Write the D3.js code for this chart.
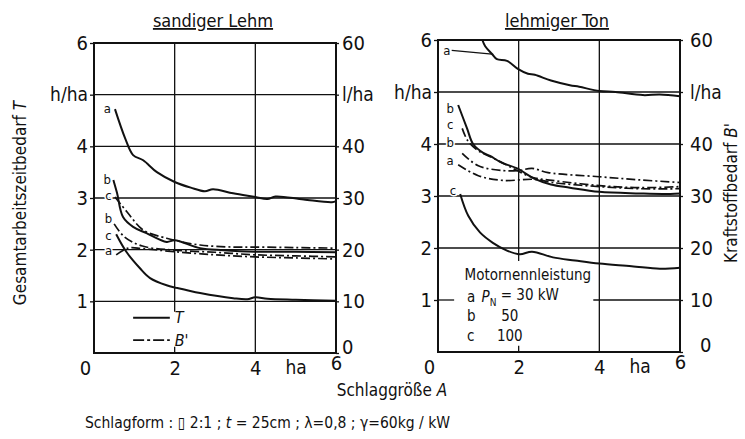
<!DOCTYPE html>
<html>
<head>
<meta charset="utf-8">
<script src="https://cdn.jsdelivr.net/npm/d3@7"></script>
<style>
  body { margin: 0; background: #fff; }
  svg text { font-family: "DejaVu Sans Condensed", "DejaVu Sans", sans-serif; font-stretch: condensed; fill: #111; }
</style>
</head>
<body>
<svg id="chart" width="745" height="439"></svg>
<script>

// Schlaggröße A (ha) -> T (h/ha) bzw. B' (l/ha)
var sandT_a = [[0.52,4.72],[0.77,4.16],[0.97,3.83],[1.22,3.73],[1.56,3.5],[2.0,3.31],[2.4,3.2],[2.75,3.13],[2.95,3.17],[3.45,3.09],[4.0,3.02],[4.3,2.98],[4.5,3.03],[5.2,2.97],[5.9,2.92],[6.0,2.94]]
var sandT_b = [[0.48,3.35],[0.57,3.1],[0.72,2.63],[0.97,2.44],[1.3,2.32],[1.8,2.15],[2.0,2.18],[2.63,2.03],[3.2,1.99],[4.0,1.96],[5.0,1.96],[6.0,1.95]]
var sandT_c = [[0.55,2.3],[0.81,1.95],[1.14,1.64],[1.39,1.45],[1.8,1.31],[2.05,1.26],[2.63,1.16],[3.45,1.06],[3.8,1.04],[4.0,1.08],[4.3,1.05],[5.0,1.03],[6.0,1.01]]
var sandB_a = [[0.55,19.0],[0.85,20.3],[1.2,20.2],[2.0,19.6],[3.0,19.0],[4.0,18.6],[5.0,18.4],[6.0,18.2]]
var sandB_b = [[0.5,25.0],[0.75,22.5],[1.2,20.7],[2.0,19.9],[3.0,19.5],[4.0,19.0],[5.0,18.8],[6.0,18.6]]
var sandB_c = [[0.52,30.2],[0.82,27.3],[1.22,23.8],[1.8,22.2],[2.0,21.8],[2.63,20.9],[3.45,20.5],[4.0,20.5],[5.0,20.4],[6.0,20.3]]

var tonT_a = [[1.1,6.0],[1.17,5.88],[1.34,5.73],[1.46,5.63],[1.71,5.6],[1.99,5.44],[2.23,5.35],[2.4,5.33],[2.8,5.22],[3.27,5.13],[3.5,5.1],[4.0,5.02],[4.4,5.0],[5.08,4.94],[5.5,4.95],[6.0,4.92]]
var tonT_b = [[0.5,4.75],[0.72,4.3],[0.87,4.0],[1.12,3.83],[1.29,3.77],[1.58,3.64],[1.96,3.53],[2.4,3.33],[2.8,3.22],[3.27,3.16],[4.0,3.08],[5.0,3.05],[5.58,3.04],[6.0,3.05]]
var tonT_c = [[0.55,3.04],[0.75,2.62],[1.04,2.3],[1.36,2.1],[1.71,1.95],[2.03,1.88],[2.33,1.93],[2.85,1.82],[3.4,1.76],[4.0,1.7],[4.8,1.65],[5.5,1.6],[6.0,1.62]]
var tonB_a = [[0.5,36.0],[1.0,33.9],[1.6,33.0],[2.4,33.2],[2.83,32.6],[4.0,31.8],[5.0,31.4],[6.0,31.4]]
var tonB_b = [[0.6,38.2],[1.0,35.8],[1.6,34.9],[2.0,34.9],[2.33,35.3],[2.73,34.5],[4.0,33.7],[5.0,33.1],[6.0,32.6]]
var tonB_c = [[0.6,43.0],[0.74,40.6],[1.0,38.7],[1.34,37.4],[1.74,35.8],[2.33,33.6],[2.83,33.0],[4.0,32.0],[5.0,31.6],[6.0,31.8]]

// Kurvenbeschriftung: [Buchstabe, A, T]
var sandLabels = [["a",0.33,4.74],["b",0.33,3.35],["c",0.36,3.04],["b",0.36,2.6],["c",0.36,2.28],["a",0.36,1.98]]
var tonLabels = [["a",0.22,5.8],["b",0.3,4.69],["c",0.3,4.38],["b",0.3,4.03],["a",0.3,3.68],["c",0.37,3.1]]

var xTicks = [0,2,4,5,6]
var xTickLabels = ["0","2","4","ha","6"]
var tTicks = [1,2,3,4,5,6]
var tTickLabels = ["1","2","3","4","h/ha","6"]
var bTicks = [0,10,20,30,40,50,60]
var bTickLabels = ["0","10","20","30","40","l/ha","60"]

var legendPower = [["a","30 kW"],["b","50"],["c","100"]]

var svg = d3.select("#chart")

var line = function(x, y) {
  return d3.line()
    .x(d => x(d[0]))
    .y(d => y(d[1]))
    .curve(d3.curveCatmullRom.alpha(0.5))
}

function drawPanel(p) {

  var x = d3.scaleLinear().domain([0, 6]).range([p.left, p.right])
  var yT = d3.scaleLinear().domain([0, 6]).range([p.bottom, p.top])
  var yB = d3.scaleLinear().domain([0, 60]).range([p.bottom, p.top])

  var g = svg.append("g")

  // gridlines
  g.selectAll(".hgrid").data(p.hGrid).enter().append("line")
    .attr("x1", d => x(d[1])).attr("x2", d => x(d[2]))
    .attr("y1", d => yT(d[0])).attr("y2", d => yT(d[0]))
    .attr("stroke", "#111").attr("stroke-width", 1.3)
  g.selectAll(".vgrid").data(p.vGrid).enter().append("line")
    .attr("x1", d => x(d[0])).attr("x2", d => x(d[0]))
    .attr("y1", d => yT(d[1])).attr("y2", d => yT(d[2]))
    .attr("stroke", "#111").attr("stroke-width", 1.3)

  // frame
  g.append("rect")
    .attr("x", p.left).attr("y", p.top)
    .attr("width", p.right - p.left).attr("height", p.bottom - p.top)
    .attr("fill", "none").attr("stroke", "#111").attr("stroke-width", 2)

  // axes
  var axL = g.append("g")
    .attr("transform", "translate(" + p.left + ",0)")
    .call(d3.axisLeft(yT).tickValues(tTicks).tickFormat((d, i) => tTickLabels[i]).tickSize(4).tickSizeOuter(0).tickPadding(2))
  var axR = g.append("g")
    .attr("transform", "translate(" + p.right + ",0)")
    .call(d3.axisRight(yB).tickValues(bTicks).tickFormat((d, i) => bTickLabels[i]).tickSize(3).tickSizeOuter(0).tickPadding(p.rightPad))
  var axB = g.append("g")
    .attr("transform", "translate(0," + p.bottom + ")")
    .call(d3.axisBottom(x).tickValues(xTicks).tickFormat((d, i) => xTickLabels[i]).tickSize(0).tickPadding(8))

  g.selectAll(".domain").remove()
  g.selectAll(".tick line").attr("stroke", "#111").attr("stroke-width", 1.3)
  g.selectAll(".tick text").attr("font-size", 20).attr("fill", "#111")
    .attr("font-family", "'DejaVu Sans Condensed','DejaVu Sans',sans-serif")
    .style("font-stretch", "condensed")
  axL.selectAll(".tick text").filter(d => d == 5).attr("font-size", 19)
  axR.selectAll(".tick text").filter(d => d == 50).attr("font-size", 19)
  axR.selectAll(".tick text").filter(d => d == 0).attr("dx", p.zeroDx).attr("dy", p.zeroDy)
  axB.selectAll(".tick text").filter(d => d == 0).attr("dx", -9)
  axB.selectAll(".tick text").filter(d => d == 6).attr("dy", "0.45em")
  axB.selectAll(".tick text").filter(d => d == 5).attr("font-size", 19)

  // title
  g.append("text")
    .attr("x", (p.left + p.right) / 2 + p.titleDx).attr("y", 27)
    .attr("text-anchor", "middle").attr("font-size", 18)
    .attr("text-decoration", "underline")
    .text(p.title)

  // curves
  var solid = line(x, yT)
  var dashed = line(x, yB)
  g.selectAll(".tcurve").data(p.T).enter().append("path")
    .attr("d", d => solid(d))
    .attr("fill", "none").attr("stroke", "#111").attr("stroke-width", 2)
  g.selectAll(".bcurve").data(p.B).enter().append("path")
    .attr("d", d => dashed(d))
    .attr("fill", "none").attr("stroke", "#111").attr("stroke-width", 1.7)
    .attr("stroke-dasharray", "9,3,2,3")

  // curve letters
  g.selectAll(".clabel").data(p.labels).enter().append("text")
    .attr("x", d => x(d[1])).attr("y", d => yT(d[2]))
    .attr("dy", "0.35em")
    .attr("text-anchor", "middle").attr("font-size", 13)
    .attr("stroke", "#fff").attr("stroke-width", 3).attr("paint-order", "stroke")
    .text(d => d[0])

  return { x: x, yT: yT, yB: yB, g: g }
}

var left = drawPanel({
  left: 94, right: 336, top: 43, bottom: 353, rightPad: 3, zeroDx: 0, zeroDy: 0, titleDx: -2,
  title: "sandiger Lehm",
  hGrid: [[1,0,6],[2,0,6],[3,0,6],[4,0,6],[5,0,6]],
  vGrid: [[2,0.8,6],[2,0,0.12],[4,0,6]],
  T: [sandT_a, sandT_b, sandT_c],
  B: [sandB_a, sandB_b, sandB_c],
  labels: sandLabels
})

var right = drawPanel({
  left: 438, right: 680, top: 40, bottom: 352, rightPad: 7, zeroDx: 10, zeroDy: "-0.05em", titleDx: -2,
  title: "lehmiger Ton",
  hGrid: [[1,0,0.4],[1,3.85,6],[2,0,6],[3,0,6],[4,0,6],[5,0,6]],
  vGrid: [[2,1.75,6],[2,0,0.12],[4,0,6]],
  T: [tonT_a, tonT_b, tonT_c],
  B: [tonB_a, tonB_b, tonB_c],
  labels: tonLabels
})

// leader for curve a (lehmiger Ton)
right.g.append("line")
  .attr("x1", right.x(0.34)).attr("x2", right.x(1.34))
  .attr("y1", right.yT(5.8)).attr("y2", right.yT(5.73))
  .attr("stroke", "#111").attr("stroke-width", 1.3)

// legend T / B'
var lg = left.g.append("g")
lg.append("line")
  .attr("x1", left.x(0.97)).attr("x2", left.x(1.88))
  .attr("y1", left.yT(0.68)).attr("y2", left.yT(0.68))
  .attr("stroke", "#111").attr("stroke-width", 2)
lg.append("line")
  .attr("x1", left.x(0.97)).attr("x2", left.x(1.88))
  .attr("y1", left.yT(0.25)).attr("y2", left.yT(0.25))
  .attr("stroke", "#111").attr("stroke-width", 1.8).attr("stroke-dasharray", "11,3,3,3")
lg.append("text")
  .attr("x", left.x(2.0)).attr("y", left.yT(0.68)).attr("dy", "0.35em")
  .attr("font-size", 16).attr("font-style", "italic").text("T")
lg.append("text")
  .attr("x", left.x(2.0)).attr("y", left.yT(0.25)).attr("dy", "0.35em")
  .attr("font-size", 16).attr("font-style", "italic").text("B'")

// legend Motornennleistung
var ml = right.g.append("g")
ml.append("text")
  .attr("x", right.x(0.66)).attr("y", right.yT(1.48)).attr("dy", "0.35em")
  .attr("font-size", 15).text("Motornennleistung")
ml.selectAll(".row").data(legendPower).enter().append("text")
  .attr("x", right.x(0.72)).attr("y", (d, i) => right.yT(1.06 - i * 0.37)).attr("dy", "0.35em")
  .attr("font-size", 15).text(d => d[0])
var rows = ml.selectAll(".val").data(legendPower).enter().append("text")
  .attr("x", (d, i) => i == 0 ? right.x(1.08) : right.x(1.78))
  .attr("y", (d, i) => right.yT(1.06 - i * 0.37)).attr("dy", "0.35em")
  .attr("font-size", 15)
  .attr("text-anchor", (d, i) => i == 0 ? "start" : "middle")
rows.filter((d, i) => i == 0).each(function(d) {
  var t = d3.select(this)
  t.append("tspan").attr("font-style", "italic").text("P")
  t.append("tspan").attr("font-size", 10).attr("dy", "0.35em").text("N")
  t.append("tspan").attr("dy", "-0.35em").text(" = " + d[1])
})
rows.filter((d, i) => i > 0).text(d => d[1])

// axis titles
svg.append("text")
  .attr("transform", "translate(26,203) rotate(-90)")
  .attr("text-anchor", "middle").attr("font-size", 17)
  .html("Gesamtarbeitszeitbedarf <tspan font-style='italic'>T</tspan>")
svg.append("text")
  .attr("transform", "translate(737,193) rotate(-90)")
  .attr("text-anchor", "middle").attr("font-size", 17)
  .html("Kraftstoffbedarf <tspan font-style='italic'>B'</tspan>")
svg.append("text")
  .attr("x", 392).attr("y", 396)
  .attr("text-anchor", "middle").attr("font-size", 17)
  .html("Schlaggröße <tspan font-style='italic'>A</tspan>")

// Randbedingungen
svg.append("text")
  .attr("x", 85).attr("y", 428)
  .attr("font-size", 15.5)
  .html("Schlagform : ▯ 2:1 ; <tspan font-style='italic'>t</tspan> = 25cm ; λ=0,8 ; γ=60kg / kW")

</script>
</body>
</html>
